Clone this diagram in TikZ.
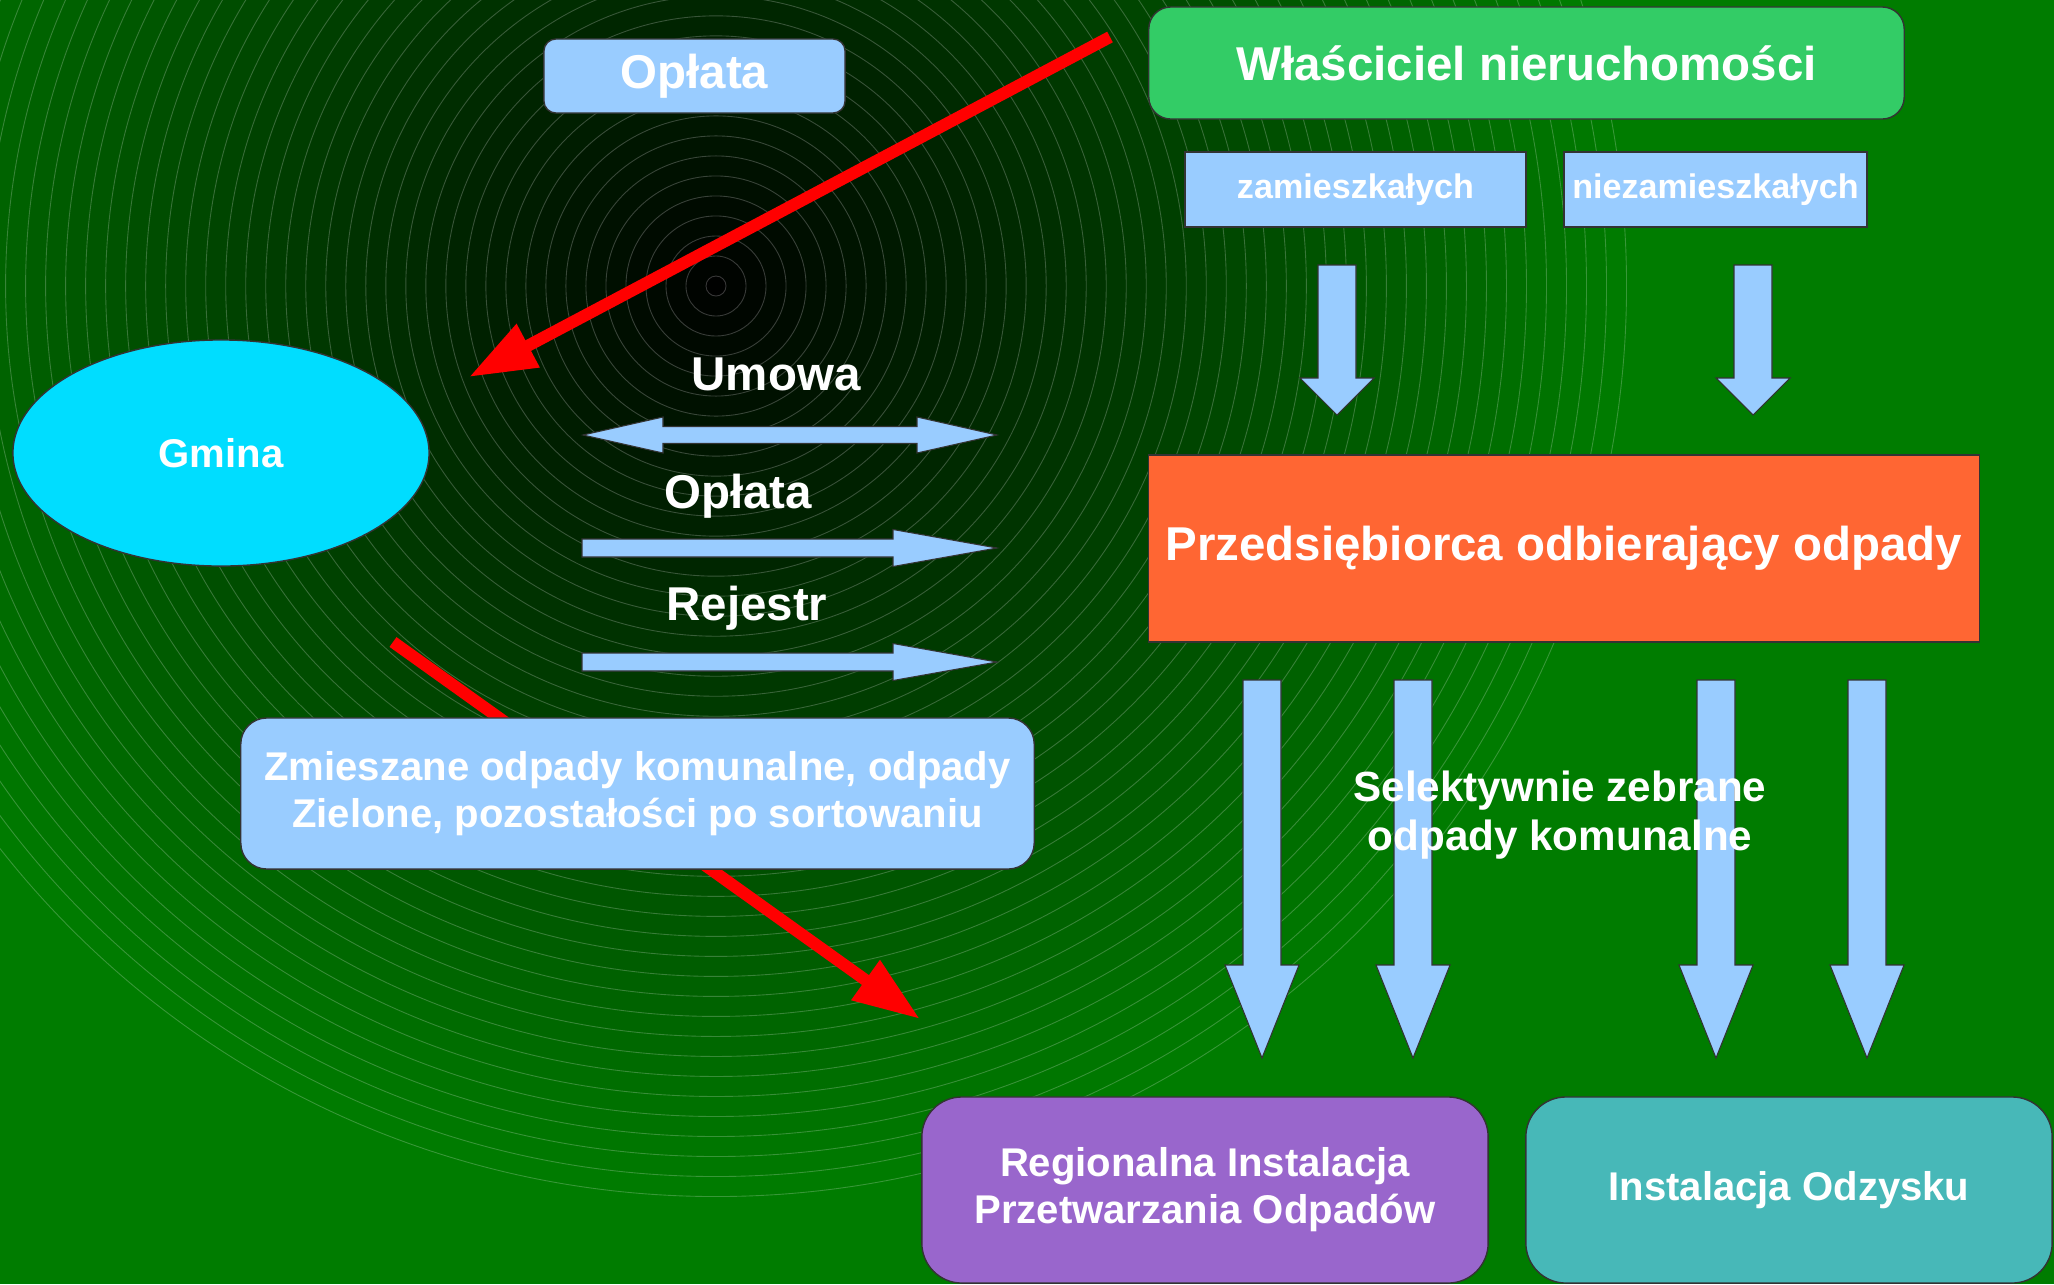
\documentclass[tikz,border=0pt]{standalone}
\usepackage{fontspec}
\setmainfont{Liberation Sans}
\usetikzlibrary{arrows.meta,shapes.geometric}
\definecolor{bggreen}{RGB}{0,124,0}
\definecolor{lblue}{RGB}{153,204,255}
\definecolor{ownergreen}{RGB}{51,204,102}
\definecolor{gcyan}{RGB}{0,221,255}
\definecolor{porange}{RGB}{255,102,51}
\definecolor{rpurple}{RGB}{153,102,204}
\definecolor{oteal}{RGB}{71,184,184}
\definecolor{redarr}{RGB}{255,0,0}
\newcommand\myfbig{\fontsize{13.5pt}{16pt}\selectfont\bfseries}
\newcommand\myfmid{\fontsize{11.4pt}{13.4pt}\selectfont\bfseries}
\newcommand\myfsel{\fontsize{12pt}{13.8pt}\selectfont\bfseries}
\newcommand\myfsmall{\fontsize{9.7pt}{11pt}\selectfont\bfseries}
% right-pointing block arrow: x1, x2(tip), y, shaft half, head half, head length
\newcommand\myHArrow[6]{\filldraw[blockarrow] (#1,#3-#4) -- (#2-#6,#3-#4) -- (#2-#6,#3-#5) -- (#2,#3) -- (#2-#6,#3+#5) -- (#2-#6,#3+#4) -- (#1,#3+#4) -- cycle;}
% double block arrow: x1(tip), x2(tip), y, shaft half, head half, head length
\newcommand\myDblArrow[6]{\filldraw[blockarrow] (#1,#3) -- (#1+#6,#3-#5) -- (#1+#6,#3-#4) -- (#2-#6,#3-#4) -- (#2-#6,#3-#5) -- (#2,#3) -- (#2-#6,#3+#5) -- (#2-#6,#3+#4) -- (#1+#6,#3+#4) -- (#1+#6,#3+#5) -- cycle;}
% down block arrow: cx, ytop, ybase, ytip, shaft half, head half
\newcommand\myDArrow[6]{\filldraw[blockarrow] (#1-#5,#2) -- (#1+#5,#2) -- (#1+#5,#3) -- (#1+#6,#3) -- (#1,#4) -- (#1-#6,#3) -- (#1-#5,#3) -- cycle;}
\begin{document}
\begin{tikzpicture}[x=0.01cm,y=-0.01cm,
  blockarrow/.style={fill=lblue, draw=black!80, line width=0.3pt},
  box/.style={draw=black!80, line width=0.4pt, text=white, align=center, inner sep=0pt},
  lbl/.style={text=white, align=center, inner sep=0pt},
  redarrow/.style={draw=redarr, line width=0.12cm, -{Triangle[length=0.67cm,width=0.46cm]}}]
\useasboundingbox (0,0) rectangle (2054,1284);
% background
\begin{scope}
\clip (0,0) rectangle (2054,1284);
\fill[bggreen] (0,0) rectangle (2054,1284);
\foreach \i in {0,...,45}{
  \pgfmathsetmacro\rr{(910-20*\i)/100}
  \pgfmathtruncatemacro\ff{(910-20*\i)/9.1}
  \filldraw[fill=bggreen!\ff!black, draw=white, draw opacity=0.22, line width=0.25pt] (716,286) circle[radius=\rr cm];
}
\end{scope}
% coordinates for red arrows
\coordinate (r1s) at (1110,37);
\coordinate (r1e) at (469,377);
\coordinate (r2s) at (393,642);
\coordinate (r2e) at (920,1019);
\draw[redarrow] (r2s) -- (r2e);
\draw[redarrow] (r1s) -- (r1e);
% nodes
\node[box, fill=lblue, rounded corners=0.12cm, minimum width=3.01cm, minimum height=0.74cm, font=\myfbig] (oplTop) at (694.5,76) {Opłata};
\node[box, fill=ownergreen, rounded corners=0.22cm, minimum width=7.55cm, minimum height=1.12cm, font=\myfbig] (owner) at (1526.5,63) {Właściciel nieruchomości};
\node[box, fill=lblue, minimum width=3.41cm, minimum height=0.75cm, font=\myfsmall] (zam) at (1355.5,189.5) {zamieszkałych};
\node[box, fill=lblue, minimum width=3.03cm, minimum height=0.75cm, font=\myfsmall] (niezam) at (1715.5,189.5) {niezamieszkałych};
\node[box, ellipse, fill=gcyan, minimum width=4.16cm, minimum height=2.26cm, font=\myfmid] (gmina) at (221,453) {Gmina};
\node[box, fill=porange, minimum width=8.30cm, minimum height=1.87cm, font=\myfbig] (przed) at (1564,548.5) {Przedsiębiorca odbierający odpady};
\node[box, fill=lblue, rounded corners=0.26cm, minimum width=7.93cm, minimum height=1.51cm, font=\myfmid] (zmiesz) at (637.5,793.5) {Zmieszane odpady komunalne, odpady\\Zielone, pozostałości po sortowaniu};
\node[box, fill=rpurple, rounded corners=0.4cm, minimum width=5.66cm, minimum height=1.86cm, font=\myfmid] (ripok) at (1205,1190) {Regionalna Instalacja\\Przetwarzania Odpadów};
\node[box, fill=oteal, rounded corners=0.4cm, minimum width=5.26cm, minimum height=1.86cm, font=\myfmid] (odzysk) at (1789,1190) {Instalacja Odzysku};
% block arrows
\myDArrow{1337}{265}{378}{415}{19}{37}
\myDArrow{1753}{265}{378}{415}{19}{37}
\myDArrow{1262}{680}{965}{1058}{19}{37}
\myDArrow{1413}{680}{965}{1058}{19}{37}
\myDArrow{1716}{680}{965}{1058}{19}{37}
\myDArrow{1867}{680}{965}{1058}{19}{37}
\myDblArrow{583}{997}{435}{8.5}{18}{80}
\myHArrow{582}{997}{548}{9}{18.5}{104}
\myHArrow{582}{997}{662}{9}{18.5}{104}
% labels
\node[lbl, font=\myfbig, anchor=base] (umowaL) at (776,390) {Umowa};
\node[lbl, font=\myfbig, anchor=base] (oplataL) at (738,508) {Opłata};
\node[lbl, font=\myfbig, anchor=base] (rejestrL) at (747,620) {Rejestr};
\node[lbl, font=\myfsel] (selL) at (1560,815) {Selektywnie zebrane\\odpady komunalne};
\end{tikzpicture}
\end{document}
